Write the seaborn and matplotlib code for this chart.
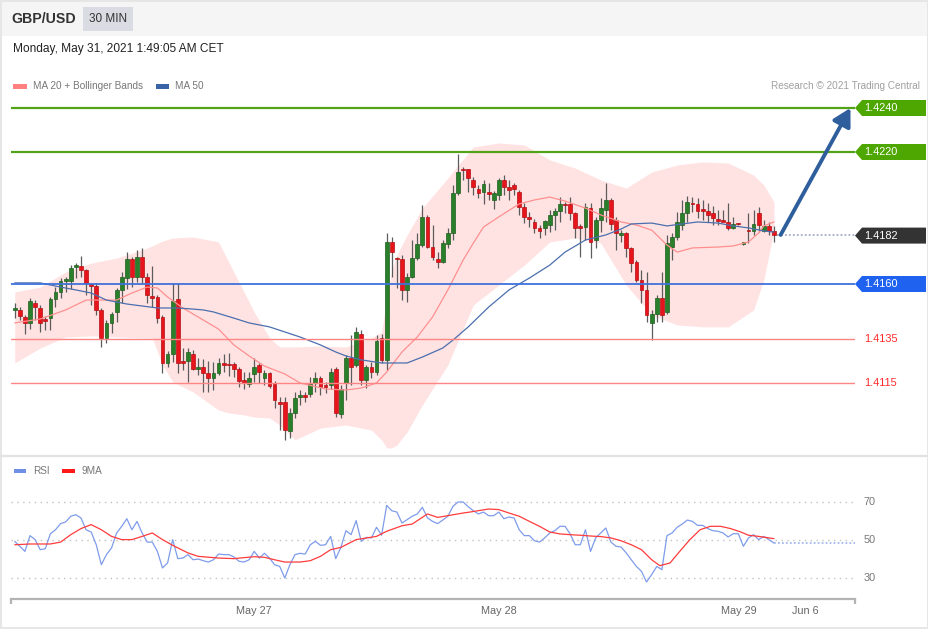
import numpy as np
import pandas as pd
import matplotlib
matplotlib.use("Agg")
import matplotlib.pyplot as plt
import seaborn as sns
from matplotlib.patches import Rectangle, Polygon
from matplotlib.lines import Line2D
from matplotlib.transforms import blended_transform_factory

# ---------------- data ----------------
symbol = "GBP/USD"
timeframe = "30 MIN"
timestamp = "Monday, May 31, 2021 1:49:05 AM CET"

open_ = [
1.41482, 1.41482, 1.41450, 1.41423, 1.41514, 1.41491, 1.41441, 1.41445, 1.41532, 1.41564,
1.41614, 1.41614, 1.41677, 1.41682, 1.41664, 1.41600, 1.41591, 1.41482, 1.41355, 1.41423,
1.41473, 1.41573, 1.41627, 1.41714, 1.41632, 1.41723, 1.41632, 1.41545, 1.41541, 1.41450,
1.41241, 1.41282, 1.41532, 1.41250, 1.41250, 1.41282, 1.41214, 1.41223, 1.41195, 1.41173,
1.41195, 1.41241, 1.41236, 1.41236, 1.41214, 1.41164, 1.41145, 1.41191, 1.41232, 1.41173,
1.41195, 1.41145, 1.41064, 1.41064, 1.40932, 1.41014, 1.41086, 1.41095, 1.41100, 1.41150,
1.41173, 1.41141, 1.41141, 1.41214, 1.41009, 1.41150, 1.41264, 1.41232, 1.41373, 1.41164,
1.41223, 1.41200, 1.41355, 1.41255, 1.41791, 1.41718, 1.41714, 1.41573, 1.41632, 1.41718,
1.41777, 1.41905, 1.41768, 1.41714, 1.41700, 1.41782, 1.41832, 1.42014, 1.42123, 1.42123,
1.42073, 1.42032, 1.42018, 1.42018, 1.41982, 1.42005, 1.42073, 1.42041, 1.42050, 1.42018,
1.41950, 1.41905, 1.41882, 1.41855, 1.41855, 1.41868, 1.41914, 1.41932, 1.41964, 1.41964,
1.41923, 1.41864, 1.41859, 1.41945, 1.41800, 1.41891, 1.41936, 1.41982, 1.41891, 1.41823,
1.41832, 1.41764, 1.41700, 1.41618, 1.41573, 1.41423, 1.41464, 1.41536, 1.41473, 1.41768,
1.41814, 1.41868, 1.41923, 1.41968, 1.41964, 1.41941, 1.41932, 1.41923, 1.41895, 1.41891,
1.41882, 1.41855, 1.41873, 1.41782, 1.41845, 1.41841, 1.41923, 1.41841, 1.41864, 1.41841]

high_ = [
1.41514, 1.41495, 1.41459, 1.41536, 1.41527, 1.41505, 1.41455, 1.41541, 1.41586, 1.41627,
1.41632, 1.41686, 1.41695, 1.41727, 1.41668, 1.41605, 1.41605, 1.41491, 1.41436, 1.41473,
1.41582, 1.41655, 1.41745, 1.41723, 1.41755, 1.41764, 1.41650, 1.41682, 1.41550, 1.41459,
1.41295, 1.41605, 1.41605, 1.41309, 1.41309, 1.41300, 1.41264, 1.41259, 1.41250, 1.41245,
1.41264, 1.41282, 1.41286, 1.41245, 1.41223, 1.41200, 1.41200, 1.41264, 1.41241, 1.41209,
1.41200, 1.41159, 1.41086, 1.41086, 1.41036, 1.41109, 1.41118, 1.41109, 1.41177, 1.41200,
1.41182, 1.41155, 1.41218, 1.41223, 1.41141, 1.41277, 1.41368, 1.41405, 1.41391, 1.41232,
1.41245, 1.41368, 1.41373, 1.41832, 1.41814, 1.41723, 1.41732, 1.41650, 1.41800, 1.41832,
1.41959, 1.41914, 1.41868, 1.41745, 1.41800, 1.41855, 1.42050, 1.42191, 1.42132, 1.42123,
1.42086, 1.42050, 1.42073, 1.42059, 1.42023, 1.42082, 1.42095, 1.42073, 1.42059, 1.42027,
1.41968, 1.41927, 1.41895, 1.41868, 1.41891, 1.41936, 1.41945, 1.41995, 1.41973, 1.41995,
1.41927, 1.41873, 1.41968, 1.41968, 1.41905, 1.41991, 1.42059, 1.41991, 1.41905, 1.41845,
1.41836, 1.41768, 1.41709, 1.41664, 1.41655, 1.41482, 1.41550, 1.41655, 1.41823, 1.41832,
1.41927, 1.41982, 1.42000, 1.41995, 1.41991, 1.41982, 1.41968, 1.41955, 1.41936, 1.41936,
1.41968, 1.41905, 1.41877, 1.41791, 1.41923, 1.41936, 1.41950, 1.41891, 1.41882, 1.41864]

low_ = [
1.41445, 1.41436, 1.41373, 1.41395, 1.41436, 1.41382, 1.41391, 1.41391, 1.41495, 1.41536,
1.41564, 1.41577, 1.41627, 1.41632, 1.41550, 1.41505, 1.41459, 1.41314, 1.41332, 1.41377,
1.41427, 1.41514, 1.41577, 1.41586, 1.41609, 1.41605, 1.41514, 1.41495, 1.41423, 1.41195,
1.41223, 1.41245, 1.41195, 1.41209, 1.41155, 1.41209, 1.41186, 1.41109, 1.41109, 1.41118,
1.41186, 1.41200, 1.41182, 1.41177, 1.41132, 1.41123, 1.41132, 1.41155, 1.41150, 1.41141,
1.41127, 1.41036, 1.40936, 1.40891, 1.40900, 1.40991, 1.41050, 1.41064, 1.41086, 1.41109,
1.41095, 1.41105, 1.41123, 1.40995, 1.40991, 1.41073, 1.41141, 1.41223, 1.41141, 1.41127,
1.41173, 1.41186, 1.41241, 1.41209, 1.41632, 1.41582, 1.41527, 1.41518, 1.41627, 1.41709,
1.41768, 1.41764, 1.41709, 1.41673, 1.41695, 1.41764, 1.41800, 1.42005, 1.42073, 1.42018,
1.42005, 1.41991, 1.41964, 1.41982, 1.41941, 1.41982, 1.42005, 1.41982, 1.42005, 1.41914,
1.41877, 1.41859, 1.41832, 1.41809, 1.41823, 1.41836, 1.41845, 1.41882, 1.41923, 1.41891,
1.41809, 1.41723, 1.41800, 1.41718, 1.41764, 1.41836, 1.41882, 1.41845, 1.41755, 1.41791,
1.41723, 1.41655, 1.41609, 1.41514, 1.41427, 1.41345, 1.41427, 1.41427, 1.41464, 1.41709,
1.41800, 1.41845, 1.41882, 1.41927, 1.41900, 1.41891, 1.41882, 1.41868, 1.41868, 1.41886,
1.41845, 1.41850, 1.41868, 1.41777, 1.41786, 1.41823, 1.41836, 1.41836, 1.41823, 1.41791]

close_ = [
1.41491, 1.41455, 1.41423, 1.41523, 1.41495, 1.41423, 1.41432, 1.41532, 1.41564, 1.41614,
1.41623, 1.41673, 1.41686, 1.41664, 1.41605, 1.41591, 1.41482, 1.41355, 1.41423, 1.41464,
1.41573, 1.41632, 1.41714, 1.41632, 1.41723, 1.41632, 1.41550, 1.41536, 1.41445, 1.41241,
1.41282, 1.41523, 1.41241, 1.41241, 1.41291, 1.41214, 1.41223, 1.41195, 1.41173, 1.41195,
1.41241, 1.41232, 1.41232, 1.41214, 1.41159, 1.41150, 1.41173, 1.41223, 1.41200, 1.41195,
1.41136, 1.41073, 1.41055, 1.40936, 1.41014, 1.41082, 1.41095, 1.41086, 1.41150, 1.41173,
1.41132, 1.41132, 1.41200, 1.41014, 1.41123, 1.41264, 1.41223, 1.41382, 1.41164, 1.41223,
1.41200, 1.41341, 1.41255, 1.41791, 1.41745, 1.41714, 1.41573, 1.41632, 1.41718, 1.41782,
1.41905, 1.41768, 1.41723, 1.41700, 1.41786, 1.41832, 1.42014, 1.42109, 1.42118, 1.42082,
1.42041, 1.42014, 1.42055, 1.42009, 1.42014, 1.42073, 1.42041, 1.42027, 1.42032, 1.41950,
1.41905, 1.41895, 1.41855, 1.41841, 1.41886, 1.41914, 1.41932, 1.41964, 1.41959, 1.41923,
1.41855, 1.41855, 1.41950, 1.41791, 1.41891, 1.41945, 1.41982, 1.41873, 1.41832, 1.41832,
1.41764, 1.41695, 1.41618, 1.41573, 1.41459, 1.41464, 1.41536, 1.41459, 1.41786, 1.41814,
1.41882, 1.41923, 1.41973, 1.41964, 1.41932, 1.41932, 1.41914, 1.41900, 1.41886, 1.41882,
1.41855, 1.41873, 1.41872, 1.41791, 1.41841, 1.41873, 1.41868, 1.41864, 1.41841, 1.41823]

# Bollinger band (MA 20 +/- bands) read at candle indices
bb_idx = [0, 5, 10, 15, 20, 25, 27, 29, 31, 35, 40, 42, 45, 47, 50, 52, 55, 60, 65, 70,
          72, 73, 74, 75, 77, 80, 85, 90, 95, 100, 105, 110, 115, 120, 125, 130, 135, 140, 145, 147, 149]
bb_upper = [1.41564, 1.41586, 1.41655, 1.41695, 1.41718, 1.41755, 1.41773, 1.41795, 1.41809, 1.41814,
            1.41791, 1.41700, 1.41564, 1.41473, 1.41355, 1.41314, 1.41314, 1.41318, 1.41314, 1.41355,
            1.41382, 1.41527, 1.41664, 1.41732, 1.41823, 1.41945, 1.42082, 1.42223, 1.42241, 1.42232,
            1.42164, 1.42127, 1.42073, 1.42036, 1.42109, 1.42141, 1.42155, 1.42150, 1.42095, 1.42050,
            1.41973]
bb_lower = [1.41241, 1.41309, 1.41359, 1.41364, 1.41359, 1.41355, 1.41355, 1.41232, 1.41155, 1.41109,
            1.41027, 1.41014, 1.41005, 1.40995, 1.40991, 1.40959, 1.40891, 1.40945, 1.40959, 1.40936,
            1.40891, 1.40855, 1.40855, 1.40868, 1.40927, 1.41050, 1.41232, 1.41505, 1.41595, 1.41686,
            1.41791, 1.41809, 1.41786, 1.41595, 1.41459, 1.41414, 1.41405, 1.41405, 1.41482, 1.41618,
            1.41845]

ma20_idx = [0, 5, 10, 14, 20, 23, 26, 28, 30, 33, 36, 40, 43, 46, 49, 53, 56, 61, 65, 68,
            71, 73, 76, 79, 82, 85, 88, 90, 92, 95, 99, 102, 105, 108, 112, 115, 119, 122, 125, 128,
            130, 133, 138, 141, 144, 146, 147, 149]
ma20 = [1.41423, 1.41441, 1.41482, 1.41527, 1.41527, 1.41559, 1.41586, 1.41582, 1.41541, 1.41491,
        1.41450, 1.41395, 1.41323, 1.41273, 1.41227, 1.41191, 1.41150, 1.41123, 1.41118, 1.41127,
        1.41150, 1.41200, 1.41291, 1.41359, 1.41450, 1.41573, 1.41709, 1.41786, 1.41859, 1.41905,
        1.41964, 1.41982, 1.41995, 1.41977, 1.41945, 1.41914, 1.41882, 1.41868, 1.41845, 1.41777,
        1.41745, 1.41764, 1.41768, 1.41773, 1.41791, 1.41832, 1.41864, 1.41882]

ma50_idx = [0, 5, 9, 12, 15, 18, 22, 25, 28, 32, 35, 37, 39, 43, 46, 50, 53, 56, 60, 63,
            65, 68, 72, 75, 77, 80, 84, 86, 89, 93, 97, 101, 105, 108, 112, 116, 119, 121, 125, 128,
            131, 134, 138, 141, 144, 147, 149]
ma50 = [1.41605, 1.41605, 1.41586, 1.41573, 1.41559, 1.41527, 1.41509, 1.41500, 1.41491, 1.41491,
        1.41486, 1.41482, 1.41473, 1.41445, 1.41423, 1.41405, 1.41382, 1.41359, 1.41323, 1.41291,
        1.41273, 1.41255, 1.41241, 1.41241, 1.41241, 1.41268, 1.41309, 1.41345, 1.41405, 1.41495,
        1.41573, 1.41627, 1.41686, 1.41745, 1.41800, 1.41823, 1.41850, 1.41873, 1.41877, 1.41864,
        1.41873, 1.41882, 1.41877, 1.41864, 1.41855, 1.41841, 1.41836]

rsi = [
49.3, 46.7, 44.0, 52.3, 50.2, 44.9, 45.4, 53.3, 55.4, 58.6,
59.5, 62.5, 63.3, 61.6, 55.4, 54.2, 47.5, 37.0, 42.3, 45.8,
53.7, 57.2, 61.2, 55.4, 59.8, 53.7, 48.9, 48.9, 44.0, 35.3,
37.9, 50.2, 40.2, 40.5, 42.3, 39.6, 40.0, 39.1, 38.4, 39.6,
42.6, 42.3, 42.3, 41.1, 38.8, 38.4, 39.6, 44.0, 40.5, 43.0,
40.5, 37.0, 36.1, 30.0, 37.0, 42.3, 43.0, 42.6, 47.5, 49.3,
47.2, 47.5, 51.9, 40.2, 46.1, 54.9, 52.8, 60.2, 49.3, 51.4,
51.1, 56.7, 52.5, 68.2, 65.4, 64.7, 58.9, 60.7, 62.5, 63.7,
67.2, 61.6, 59.8, 58.6, 60.5, 62.5, 67.7, 70.0, 70.0, 67.5,
65.4, 63.7, 64.7, 62.8, 62.8, 64.7, 61.2, 62.1, 61.6, 55.4,
52.3, 52.3, 49.6, 48.9, 51.1, 53.7, 54.9, 57.2, 57.2, 53.2,
47.5, 47.5, 55.4, 44.0, 51.1, 53.7, 56.3, 48.9, 46.7, 46.3,
43.2, 39.6, 36.1, 33.5, 27.9, 31.8, 36.1, 34.4, 52.3, 53.7,
56.7, 58.4, 60.5, 59.8, 57.7, 57.7, 56.0, 54.9, 54.6, 53.7,
51.6, 53.3, 53.3, 46.7, 51.1, 52.8, 50.2, 51.9, 50.2, 48.4]

ma9_idx = [0, 3, 7, 9, 11, 13, 15, 17, 19, 21, 23, 25, 27, 29, 31, 34, 36, 40, 43, 47,
           49, 51, 53, 56, 58, 60, 62, 64, 67, 71, 73, 76, 78, 81, 83, 85, 88, 89.3, 93, 95,
           97, 99, 101, 103, 105, 107, 109, 111, 113, 115, 117, 119, 121, 123, 125, 126.6, 128.6,
           130.5, 132.5, 134.5, 136.5, 138.5, 140.5, 142.5, 144, 146, 149]
ma9 = [47.5, 47.9, 47.9, 48.9, 52.8, 56.0, 58.1, 55.4, 51.9, 50.2, 50.2, 51.9, 53.7, 50.2, 47.2,
       43.2, 41.4, 40.5, 40.2, 41.2, 40.9, 39.6, 38.4, 38.4, 39.1, 41.4, 44.9, 46.1, 50.2, 51.9,
       54.6, 57.5, 58.4, 63.7, 61.9, 62.8, 64.2, 64.7, 66.3, 66.0, 64.2, 62.5, 59.8, 57.2, 54.2,
       53.2, 52.8, 52.5, 52.1, 51.8, 51.1, 49.6, 47.5, 44.9, 39.6, 36.5, 37.9, 44.0, 50.2, 55.4,
       57.2, 57.2, 56.0, 54.2, 52.5, 51.9, 50.7]

resistance_levels = [1.4240, 1.4220]
pivot_level = 1.4160
support_levels = [1.4135, 1.4115]
target_level = 1.4240
rsi_levels = [70, 50, 30]
date_ticks = [47.0, 95.0, 142.1, 155.1]
date_labels = ["May 27", "May 28", "May 29", "Jun 6"]

# ---------------- styling ----------------
sns.set_theme(style="white")
plt.rcParams["font.family"] = ["Liberation Sans", "DejaVu Sans"]

GREEN_C = "#2a7f2a"
GREEN_E = "#1e5e1e"
RED_C = "#e8141b"
RED_E = "#b31014"
LEVEL_GREEN = "#52a318"
TAG_GREEN = "#4ea600"
PIVOT_BLUE = "#3f72dc"
TAG_BLUE = "#1f62f0"
SUP_RED = "#ff8585"

W, H = 929, 629
fig = plt.figure(figsize=(W / 100, H / 100), dpi=100, facecolor="white")


def fb(x0, y0, x1, y1):
    return [x0 / W, 1 - y1 / H, (x1 - x0) / W, (y1 - y0) / H]


def fpt(x, y):
    return x / W, 1 - y / H


# header band and frames
fig.add_artist(Rectangle(fpt(0, 36), 1, 36 / H, transform=fig.transFigure,
                         facecolor="#f5f5f6", edgecolor="none", zorder=0))
fig.add_artist(Rectangle(fpt(83, 31), 50 / W, 24 / H, transform=fig.transFigure,
                         facecolor="#d9dce3", edgecolor="none", zorder=1))
fig.add_artist(Rectangle((0.0008, 0.0008), 0.9984, 0.9984, transform=fig.transFigure,
                         fill=False, edgecolor="#e6e6e6", lw=1.4, zorder=1))
fig.add_artist(Line2D([0, 1], [1 - 456 / H] * 2, transform=fig.transFigure,
                      color="#e3e3e3", lw=1.6, zorder=1))

fig.text(*fpt(11, 19), symbol, fontsize=10.2, fontweight="bold", color="#333333", va="center")
fig.text(*fpt(89, 19), timeframe, fontsize=8.5, color="#333333", va="center")
fig.text(*fpt(13, 49), timestamp, fontsize=8.6, color="#222222", va="center")

# price legend
fig.add_artist(Rectangle(fpt(13, 88.5), 14 / W, 4.5 / H, transform=fig.transFigure,
                         facecolor="#ff8080", edgecolor="none"))
fig.text(*fpt(33, 86), "MA 20 + Bollinger Bands", fontsize=7.2, color="#777777", va="center")
fig.add_artist(Rectangle(fpt(156, 88.5), 13 / W, 4.5 / H, transform=fig.transFigure,
                         facecolor="#3a62a6", edgecolor="none"))
fig.text(*fpt(175, 86), "MA 50", fontsize=7.2, color="#777777", va="center")
fig.text(*fpt(920, 86), "Research \u00a9 2021 Trading Central", fontsize=7.2,
         color="#a0a0a0", va="center", ha="right")

# ---------------- price panel ----------------
n = len(close_)
idx = np.arange(n)
o = np.array(open_); h = np.array(high_); l = np.array(low_); c = np.array(close_)

XMIN, XMAX = -0.73, 164.9
ax = fig.add_axes(fb(11, 95, 855, 455))
ax.set_xlim(XMIN, XMAX)
ax.set_ylim(1.408227, 1.424591)
ax.set_axis_off()

ax.fill_between(bb_idx, bb_lower, bb_upper, color="#ffe3e3", lw=0, zorder=1)

up = c >= o
body_lo = np.minimum(o, c)
yr = ax.get_ylim()[1] - ax.get_ylim()[0]
min_body = yr * 1.2 / 360
body_h = np.maximum(np.abs(c - o), min_body)
ax.vlines(idx, l, h, color="#5c5c5c", lw=0.9, zorder=3)
ax.bar(idx, body_h, bottom=body_lo, width=0.74,
       color=np.where(up, GREEN_C, RED_C), edgecolor=np.where(up, GREEN_E, RED_E),
       linewidth=0.5, zorder=4)

sns.lineplot(x=ma20_idx, y=ma20, ax=ax, color="#ff8f8f", linewidth=0.9, zorder=5)
sns.lineplot(x=ma50_idx, y=ma50, ax=ax, color="#4b6fae", linewidth=0.9, zorder=5)

for lv in resistance_levels:
    ax.axhline(lv, color=LEVEL_GREEN, lw=1.6, zorder=5)
ax.axhline(pivot_level, color=PIVOT_BLUE, lw=1.3, zorder=5)
for lv in support_levels:
    ax.axhline(lv, color=SUP_RED, lw=1.0, zorder=5)

# dotted continuation of last price
ax.plot([n - 0.5, XMAX], [c[-1], c[-1]], color="#a3acc0", lw=1.3,
        ls=(0, (1, 1.2)), zorder=5, clip_on=False)

# target arrow
ax.annotate("", xy=(XMAX - 0.9, target_level), xytext=(n + 0.3, c[-1]),
            arrowprops=dict(arrowstyle="-|>,head_length=0.75,head_width=0.42",
                            color="#2f5e9d", lw=2.8, shrinkA=0, shrinkB=0,
                            mutation_scale=14),
            zorder=6, annotation_clip=False)

# right-side tags
tr = blended_transform_factory(ax.transAxes, ax.transData)
half = yr * 8 / 360
axw = 844.0


def tag(level, face, text):
    x0 = 1.0
    x1 = 1 + 7 / axw
    x2 = 1 + 71 / axw
    poly = Polygon([[x0, level], [x1, level + half], [x2, level + half],
                    [x2, level - half], [x1, level - half]], closed=True,
                   transform=tr, facecolor=face, edgecolor="none", clip_on=False, zorder=6)
    ax.add_patch(poly)
    ax.text(1 + 9 / axw, level, text, transform=tr, color="white", fontsize=7.9,
            va="center", ha="left", clip_on=False, zorder=7)


for lv in resistance_levels:
    tag(lv, TAG_GREEN, f"{lv:.4f}")
tag(round(c[-1], 4), "#333333", f"{c[-1]:.4f}")
tag(pivot_level, TAG_BLUE, f"{pivot_level:.4f}")
for lv in support_levels:
    ax.text(1 + 9 / axw, lv, f"{lv:.4f}", transform=tr, color="#ff2a2a", fontsize=7.9,
            va="center", ha="left", clip_on=False)

# ---------------- RSI panel ----------------
ax2 = fig.add_axes(fb(11, 460, 855, 599))
ax2.set_xlim(XMIN, XMAX)
RMIN, RMAX = 18.95, 92.1
ax2.set_ylim(RMIN, RMAX)
ax2.set_facecolor("none")
for s in ["top", "left", "right"]:
    ax2.spines[s].set_visible(False)
ax2.spines["bottom"].set_color("#b3b3b3")
ax2.spines["bottom"].set_linewidth(1.6)
ax2.set_yticks([])
ax2.set_xticks(date_ticks)
ax2.set_xticklabels(date_labels, fontsize=7.8, color="#666666")
ax2.tick_params(axis="x", length=0, pad=5)
ax2.grid(False)

for lv in rsi_levels:
    ax2.axhline(lv, color="#c2c2c2", lw=1.0, ls=(0, (1, 3.2)), xmax=1.0, zorder=1)
    ax2.text(1 + 9 / axw, lv, str(lv), transform=blended_transform_factory(ax2.transAxes, ax2.transData),
             color="#777777", fontsize=7.8, va="center", ha="left", clip_on=False)

sns.lineplot(x=idx, y=rsi, ax=ax2, color="#7f9cea", linewidth=0.9, zorder=3)
sns.lineplot(x=ma9_idx, y=ma9, ax=ax2, color="#ff3b3b", linewidth=0.9, zorder=4)
ax2.plot([n - 1, XMAX], [rsi[-1], rsi[-1]], color="#a4b8f0", lw=1.3, ls=(0, (1, 1.2)), zorder=3)
ax2.set_xlabel("")
ax2.set_ylabel("")

tick_h = (RMAX - RMIN) * 5 / 139
for xv in [XMIN, XMAX]:
    ax2.plot([xv, xv], [RMIN, RMIN - tick_h], color="#b3b3b3", lw=1.6, clip_on=False,
             solid_capstyle="butt")

# RSI legend
fig.add_artist(Rectangle(fpt(14, 473), 12 / W, 4.5 / H, transform=fig.transFigure,
                         facecolor="#6f8fe6", edgecolor="none"))
fig.text(*fpt(33, 471), "RSI", fontsize=7.2, color="#777777", va="center")
fig.add_artist(Rectangle(fpt(62, 473), 13 / W, 4.5 / H, transform=fig.transFigure,
                         facecolor="#ff1a1a", edgecolor="none"))
fig.text(*fpt(82, 471), "9MA", fontsize=7.2, color="#777777", va="center")

fig.savefig("out.png", dpi=100, facecolor="white")
